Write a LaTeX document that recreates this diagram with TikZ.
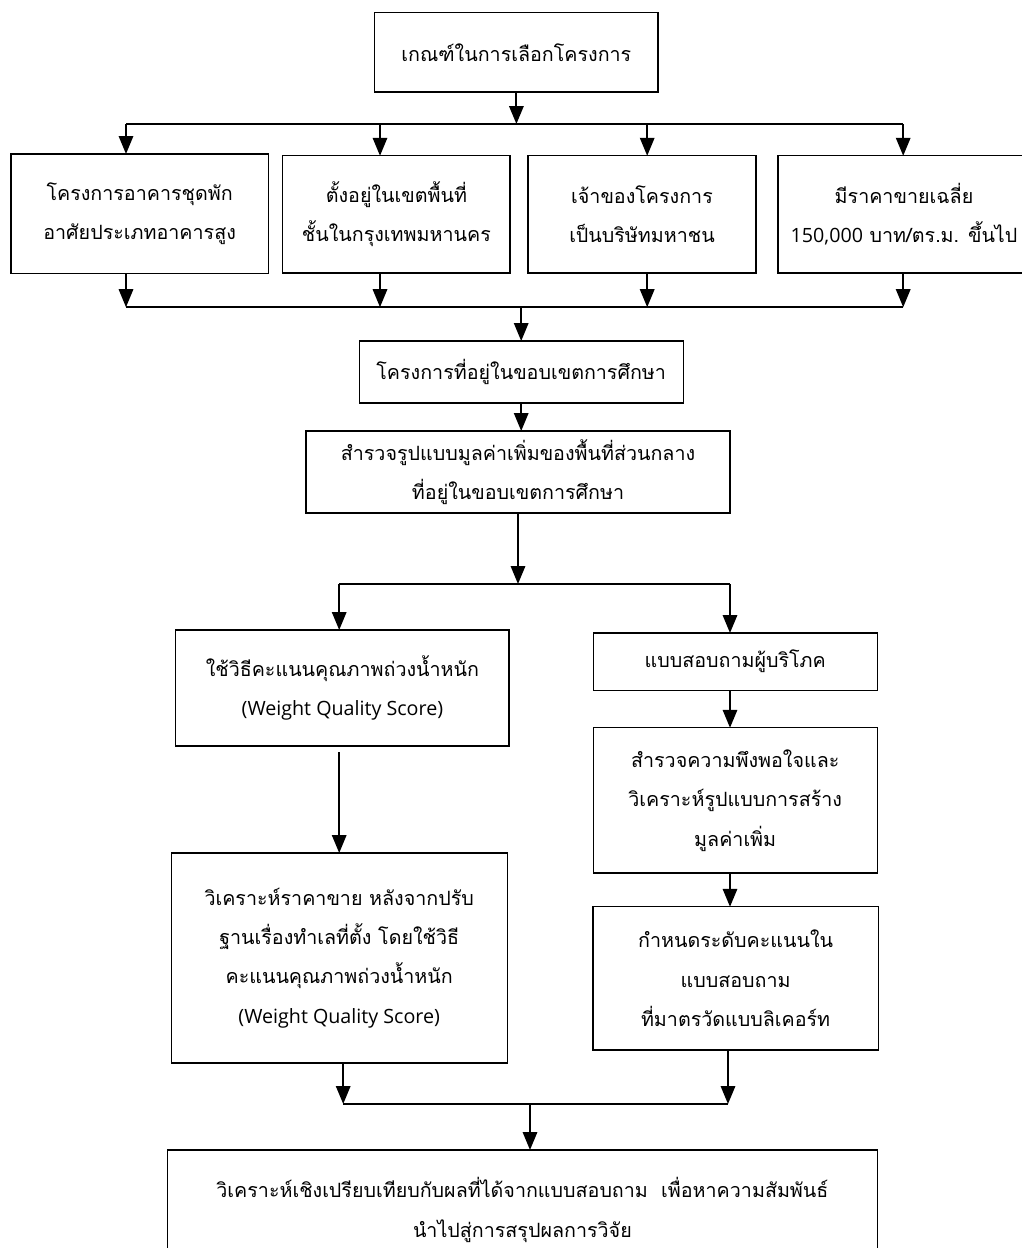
\documentclass[tikz,border=0pt]{standalone}
\usepackage{fontspec}
\newfontfamily\thaifont[Script=Thai]{Loma}
\newfontfamily\latinfont{Open Sans}
\usetikzlibrary{arrows.meta,calc}
\tikzset{
  stepbox/.style={draw, line width=0.9pt, align=center, inner sep=0pt, outer sep=0pt,
    font=\thaifont\fontsize{14}{28}\selectfont},
  boxdim/.style 2 args={minimum width=#1cm, minimum height=#2cm},
  flowarrow/.style={-{Triangle[length=4.5mm,width=3.6mm]}, line width=1.4pt},
  busline/.style={line width=1.4pt},
}
\newcommand{\wqs}{{\latinfont\fontsize{14}{28}\selectfont (Weight Quality Score)}}

\begin{document}
\begin{tikzpicture}
  \useasboundingbox (0,0) rectangle (25.55,-31.2);
  % criteria and the four conditions
  \node[stepbox, boxdim={7.08}{1.98}] (crit) at (12.91,-1.31) {เกณฑ์ในการเลือกโครงการ};
  \node[stepbox, boxdim={6.43}{2.98}] (A) at (3.49,-5.34) {โครงการอาคารชุดพัก\\อาศัยประเภทอาคารสูง};
  \node[stepbox, boxdim={5.68}{2.93}] (B) at (9.91,-5.36) {ตั้งอยู่ในเขตพื้นที่\\ชั้นในกรุงเทพมหานคร};
  \node[stepbox, boxdim={5.70}{2.93}] (C) at (16.05,-5.36) {เจ้าของโครงการ\\เป็นบริษัทมหาชน};
  \node[stepbox, boxdim={6.30}{2.93}] (D) at (22.60,-5.36) {มีราคาขายเฉลี่ย\\{\latinfont\fontsize{14}{28}\selectfont 150,000} บาท/ตร.ม. ขึ้นไป};
  \node[stepbox, boxdim={8.10}{1.55}] (E) at (13.03,-9.30) {โครงการที่อยู่ในขอบเขตการศึกษา};
  \node[stepbox, boxdim={10.6}{2.05}] (F) at (12.95,-11.80) {สำรวจรูปแบบมูลค่าเพิ่มของพื้นที่ส่วนกลาง\\ที่อยู่ในขอบเขตการศึกษา};
  % two branches
  \node[stepbox, boxdim={8.33}{2.90}] (G) at (8.56,-17.20) {ใช้วิธีคะแนนคุณภาพถ่วงน้ำหนัก\\\wqs};
  \node[stepbox, boxdim={7.10}{1.43}] (H) at (18.38,-16.54) {แบบสอบถามผู้บริโภค};
  \node[stepbox, boxdim={7.10}{3.63}] (I) at (18.38,-20.01) {สำรวจความพึงพอใจและ\\วิเคราะห์รูปแบบการสร้าง\\มูลค่าเพิ่ม};
  \node[stepbox, boxdim={7.13}{3.58}] (J) at (18.39,-24.46) {กำหนดระดับคะแนนใน\\แบบสอบถาม\\ที่มาตรวัดแบบลิเคอร์ท};
  \node[stepbox, boxdim={8.40}{5.25}] (K) at (8.48,-23.95) {วิเคราะห์ราคาขาย หลังจากปรับ\\ฐานเรื่องทำเลที่ตั้ง โดยใช้วิธี\\คะแนนคุณภาพถ่วงน้ำหนัก\\\wqs};
  \node[stepbox, boxdim={17.75}{3.00}] (L) at (13.06,-30.25) {วิเคราะห์เชิงเปรียบเทียบกับผลที่ได้จากแบบสอบถาม\ \ เพื่อหาความสัมพันธ์\\นำไปสู่การสรุปผลการวิจัย};

  % bus lines
  \foreach \n/\x in {A/3.15,B/9.50,C/16.18,D/22.58} {
    \coordinate (t\n) at (\x,-3.10);
    \coordinate (b\n) at (\x,-7.68);
    \draw[flowarrow] (t\n) -- (t\n |- \n.north);
    \draw[flowarrow] (t\n |- \n.south) -- (b\n);
  }
  \draw[flowarrow] (crit.south) -- (crit.south |- tA);
  \draw[busline] (tA) -- (tD);
  \draw[busline] (bA) -- (bD);
  \draw[flowarrow] (E.north |- bA) -- (E.north);
  \draw[flowarrow] (E.south) -- (E.south |- F.north);

  \coordinate (sG) at (8.48,-14.60);
  \coordinate (sH) at (18.25,-14.60);
  \draw[flowarrow] (F.south) -- (F.south |- sG);
  \draw[busline] (sG) -- (sH);
  \draw[flowarrow] (sG) -- (sG |- G.north);
  \draw[flowarrow] (sH) -- (sH |- H.north);
  \draw[flowarrow] (sH |- H.south) -- (sH |- I.north);
  \draw[flowarrow] (sH |- I.south) -- (sH |- J.north);
  \draw[flowarrow] ([yshift=-1.5mm]sG |- G.south) -- (sG |- K.north);

  \coordinate (jK) at (8.58,-27.60);
  \coordinate (jJ) at (18.20,-27.60);
  \coordinate (jL) at (13.25,-27.60);
  \draw[flowarrow] (jK |- K.south) -- (jK);
  \draw[flowarrow] (jJ |- J.south) -- (jJ);
  \draw[busline] (jK) -- (jJ);
  \draw[flowarrow] (jL) -- (jL |- L.north);
\end{tikzpicture}
\end{document}
